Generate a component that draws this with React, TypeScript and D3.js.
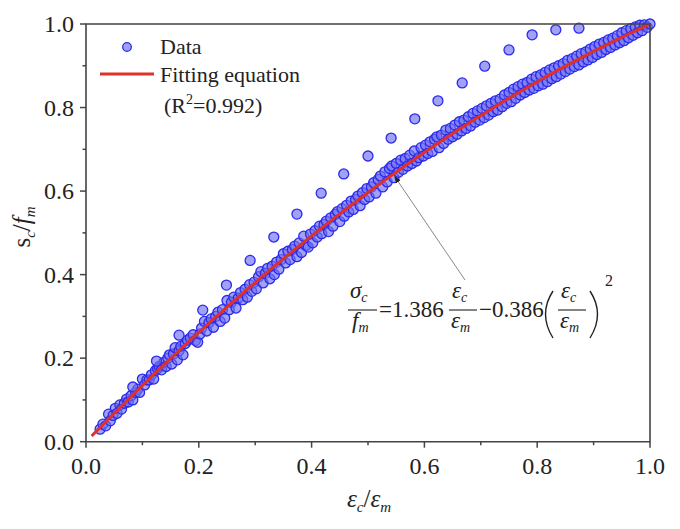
import React from 'react';
import * as d3 from 'd3';

// measured points, normalised strain (x) and normalised stress (y)
const strainMain = [
  0.025, 0.03, 0.035, 0.04, 0.043, 0.048, 0.052, 0.055, 0.06, 0.063, 0.068, 0.072, 0.075, 0.08, 0.083, 0.088, 0.092, 0.095, 0.1, 0.104, 0.108,
  0.112, 0.116, 0.12, 0.123, 0.127, 0.13, 0.134, 0.138, 0.142, 0.145, 0.148, 0.152, 0.155, 0.158, 0.162, 0.165, 0.168, 0.172, 0.176, 0.18, 0.185, 0.19, 0.194, 0.198, 0.202, 0.205,
  0.21, 0.214, 0.218, 0.222, 0.226, 0.23, 0.234, 0.238, 0.242, 0.246, 0.25, 0.254, 0.258, 0.262, 0.266, 0.27, 0.274, 0.278, 0.282, 0.286, 0.29, 0.294, 0.298, 0.302,
  0.306, 0.31, 0.314, 0.318, 0.322, 0.326, 0.33, 0.334, 0.338, 0.342, 0.346, 0.35, 0.354, 0.358, 0.362, 0.366, 0.37, 0.374, 0.378, 0.382, 0.386, 0.39, 0.394, 0.398, 0.402, 0.406,
  0.41, 0.414, 0.418, 0.422, 0.426, 0.43, 0.434, 0.438, 0.442, 0.446, 0.45, 0.454, 0.458, 0.462, 0.466, 0.47, 0.474, 0.478, 0.482, 0.486, 0.49, 0.494, 0.498, 0.502,
  0.506, 0.51, 0.514, 0.518, 0.522, 0.526, 0.53, 0.534, 0.538, 0.542, 0.546, 0.55, 0.554, 0.558, 0.562, 0.566, 0.57, 0.574, 0.578, 0.582, 0.586, 0.59, 0.594, 0.598,
  0.602, 0.606, 0.61, 0.614, 0.618, 0.622, 0.626, 0.63, 0.634, 0.638, 0.642, 0.646, 0.65, 0.654, 0.658, 0.662, 0.666, 0.67, 0.674, 0.678, 0.682, 0.686, 0.69, 0.694, 0.698,
  0.702, 0.706, 0.71, 0.714, 0.718, 0.722, 0.726, 0.73, 0.734, 0.738, 0.742, 0.746, 0.75, 0.754, 0.758, 0.762, 0.766, 0.77, 0.774, 0.778, 0.782, 0.786, 0.79, 0.794, 0.798,
  0.802, 0.806, 0.81, 0.814, 0.818, 0.822, 0.826, 0.83, 0.834, 0.838, 0.842, 0.846, 0.85, 0.854, 0.858, 0.862, 0.866, 0.87, 0.874, 0.878, 0.882, 0.886, 0.89, 0.894, 0.898,
  0.902, 0.906, 0.91, 0.914, 0.918, 0.922, 0.926, 0.93, 0.934, 0.938, 0.942, 0.946, 0.95, 0.954, 0.958, 0.962, 0.966, 0.97, 0.974, 0.978, 0.982, 0.986, 0.99, 0.995, 1.0,
];
const stressMain = [
  0.03, 0.042, 0.038, 0.066, 0.05, 0.063, 0.08, 0.068, 0.088, 0.078, 0.092, 0.102, 0.095, 0.11, 0.1, 0.118, 0.126, 0.118, 0.15, 0.136, 0.148,
  0.148, 0.16, 0.15, 0.17, 0.175, 0.18, 0.172, 0.19, 0.18, 0.2, 0.208, 0.186, 0.21, 0.225, 0.196, 0.218, 0.228, 0.208, 0.235, 0.243, 0.248, 0.256, 0.242, 0.238, 0.258, 0.272,
  0.288, 0.265, 0.285, 0.294, 0.274, 0.3, 0.31, 0.288, 0.316, 0.296, 0.338, 0.316, 0.334, 0.346, 0.32, 0.344, 0.357, 0.34, 0.365, 0.346, 0.376, 0.36, 0.382, 0.366,
  0.395, 0.407, 0.38, 0.403, 0.415, 0.39, 0.42, 0.4, 0.43, 0.413, 0.436, 0.45, 0.428, 0.456, 0.436, 0.46, 0.468, 0.443, 0.476, 0.453, 0.492, 0.47, 0.466, 0.497, 0.476, 0.505,
  0.49, 0.516, 0.498, 0.52, 0.528, 0.503, 0.536, 0.516, 0.544, 0.551, 0.527, 0.558, 0.54, 0.566, 0.55, 0.576, 0.556, 0.58, 0.588, 0.565, 0.596, 0.58, 0.606, 0.586,
  0.61, 0.62, 0.595, 0.628, 0.636, 0.61, 0.646, 0.622, 0.654, 0.66, 0.632, 0.666, 0.645, 0.674, 0.652, 0.678, 0.66, 0.686, 0.666, 0.696, 0.672, 0.68, 0.704, 0.684,
  0.71, 0.69, 0.718, 0.695, 0.724, 0.73, 0.704, 0.734, 0.714, 0.746, 0.724, 0.75, 0.73, 0.758, 0.736, 0.766, 0.744, 0.77, 0.75, 0.778, 0.756, 0.786, 0.765, 0.792, 0.77,
  0.798, 0.776, 0.804, 0.782, 0.81, 0.79, 0.816, 0.794, 0.82, 0.802, 0.83, 0.81, 0.836, 0.814, 0.844, 0.822, 0.85, 0.83, 0.856, 0.836, 0.86, 0.842, 0.868, 0.846, 0.874,
  0.852, 0.878, 0.856, 0.884, 0.862, 0.89, 0.869, 0.895, 0.874, 0.9, 0.88, 0.905, 0.886, 0.913, 0.892, 0.917, 0.898, 0.923, 0.902, 0.929, 0.909, 0.933, 0.914, 0.94, 0.92,
  0.946, 0.927, 0.952, 0.932, 0.956, 0.939, 0.962, 0.944, 0.966, 0.95, 0.972, 0.955, 0.979, 0.96, 0.984, 0.967, 0.989, 0.973, 0.993, 0.979, 0.997, 0.984, 0.998, 0.992, 1.0,
];

// the upper band of specimens sitting above the fitted curve
const strainUpper = [0.083, 0.125, 0.165, 0.207, 0.249, 0.291, 0.333, 0.374, 0.417, 0.457, 0.5, 0.541, 0.583, 0.624, 0.667, 0.707, 0.75, 0.791, 0.833, 0.874];
const stressUpper = [0.131, 0.193, 0.255, 0.315, 0.375, 0.434, 0.49, 0.545, 0.595, 0.641, 0.684, 0.727, 0.773, 0.816, 0.859, 0.899, 0.938, 0.974, 0.986, 0.99];

// sigma_c / f_m = a * (e_c/e_m) + b * (e_c/e_m)^2
const fitCoefficients = [1.386, -0.386];

const majorTicks = [0, 0.2, 0.4, 0.6, 0.8, 1.0];
const minorTicks = [0.1, 0.3, 0.5, 0.7, 0.9];

const serif = { fontFamily: "'Liberation Serif'" };
const axisColor = '#444';
const ink = '#222';

function App() {
  const width = 680;
  const height = 529;
  const left = 86;
  const right = 650;
  const top = 24;
  const bottom = 441.7;

  const x = d3.scaleLinear().domain([0, 1]).range([left, right]);
  const y = d3.scaleLinear().domain([0, 1]).range([bottom, top]);
  const fmt = d3.format('.1f');

  const fit = (v: number) => fitCoefficients[0] * v + fitCoefficients[1] * v * v;
  const fitX = d3.range(0.01, 1.0001, 0.01);
  const fitLine = d3
    .line<number>()
    .x((d) => x(d))
    .y((d) => y(fit(d)));

  const points = [
    ...strainMain.map((v, i) => [v, stressMain[i]]),
    ...strainUpper.map((v, i) => [v, stressUpper[i]]),
  ];

  // arrow from the equation up to the curve
  const arrowTip = 0.545;
  const tipX = x(arrowTip);
  const tipY = y(fit(arrowTip));

  return (
    <svg width={width} height={height} style={{ position: 'absolute', left: 0, top: 0 }}>
      <defs>
        <marker id="head" viewBox="0 0 10 10" refX="10" refY="5" markerWidth="7" markerHeight="7" orient="auto">
          <path d="M0,1 L10,5 L0,9 z" fill={ink} />
        </marker>
      </defs>
      <rect width={width} height={height} fill="#fff" />

      {/* data points */}
      <g>
        {points.map((p, i) => (
          <circle
            key={i}
            cx={x(p[0])}
            cy={y(p[1])}
            r={5}
            fill="rgba(110,110,240,0.65)"
            stroke="#2a2aee"
            strokeWidth={1.3}
          />
        ))}
      </g>

      {/* fitted curve */}
      <path d={fitLine(fitX) || ''} fill="none" stroke="#e0302a" strokeWidth={3} />

      {/* frame */}
      <path
        d={`M${left},${top} H${right} V${bottom} H${left} Z`}
        fill="none"
        stroke={axisColor}
        strokeWidth={1.6}
      />

      {/* x axis ticks */}
      <g>
        {majorTicks.map((t) => (
          <g key={'xm' + t}>
            <line x1={x(t)} x2={x(t)} y1={bottom} y2={bottom + 6} stroke={axisColor} strokeWidth={1.5} />
            <text x={x(t)} y={bottom + 32} textAnchor="middle" fontSize={24} fill={ink} style={serif}>
              {fmt(t)}
            </text>
          </g>
        ))}
        {minorTicks.map((t) => (
          <line key={'xn' + t} x1={x(t)} x2={x(t)} y1={bottom} y2={bottom + 3.5} stroke={axisColor} strokeWidth={1.5} />
        ))}
      </g>

      {/* y axis ticks */}
      <g>
        {majorTicks.map((t) => (
          <g key={'ym' + t}>
            <line x1={left - 6} x2={left} y1={y(t)} y2={y(t)} stroke={axisColor} strokeWidth={1.5} />
            <text x={left - 12} y={y(t) + 8} textAnchor="end" fontSize={24} fill={ink} style={serif}>
              {fmt(t)}
            </text>
          </g>
        ))}
        {minorTicks.map((t) => (
          <line key={'yn' + t} x1={left - 3.5} x2={left} y1={y(t)} y2={y(t)} stroke={axisColor} strokeWidth={1.5} />
        ))}
      </g>

      {/* axis titles */}
      <text x={369} y={507} textAnchor="middle" fontSize={25} fill={ink} style={serif}>
        <tspan fontStyle="italic">ε</tspan>
        <tspan fontStyle="italic" fontSize={15} dy={5}>c</tspan>
        <tspan dy={-5}>/</tspan>
        <tspan fontStyle="italic">ε</tspan>
        <tspan fontStyle="italic" fontSize={15} dy={5}>m</tspan>
      </text>
      <text transform="translate(30,227) rotate(-90)" textAnchor="middle" fontSize={25} fill={ink} style={serif}>
        <tspan>s</tspan>
        <tspan fontStyle="italic" fontSize={15} dy={5}>c</tspan>
        <tspan dy={-5}>/</tspan>
        <tspan fontStyle="italic">f</tspan>
        <tspan fontStyle="italic" fontSize={15} dy={5}>m</tspan>
      </text>

      {/* legend */}
      <g fontSize={22} fill={ink}>
        <circle cx={127} cy={47} r={4.3} fill="rgba(110,110,240,0.65)" stroke="#2a2aee" strokeWidth={1.3} />
        <text x={160} y={54} style={serif}>Data</text>
        <line x1={100} x2={154} y1={74} y2={74} stroke="#e0302a" strokeWidth={3} />
        <text x={160} y={82} style={serif}>Fitting equation</text>
        <text x={164} y={113} style={serif}>
          (R<tspan fontSize={14} dy={-9}>2</tspan>
          <tspan dy={9}>=0.992)</tspan>
        </text>
      </g>

      {/* annotation */}
      <line x1={465} y1={280} x2={tipX + 1} y2={tipY + 2} stroke="#888" strokeWidth={1} markerEnd="url(#head)" />
      <g fill={ink} fontSize={23}>
        <text x={350} y={298} fontStyle="italic" style={serif}>
          σ<tspan fontSize={14} dy={4}>c</tspan>
        </text>
        <line x1={348} x2={377} y1={310} y2={310} stroke={ink} strokeWidth={1.1} />
        <text x={352} y={328} fontStyle="italic" style={serif}>
          f<tspan fontSize={14} dy={4}>m</tspan>
        </text>
        <text x={379} y={317} style={serif}>=</text>
        <text x={392} y={317} style={serif}>1.386</text>
        <text x={452} y={298} fontStyle="italic" style={serif}>
          ε<tspan fontSize={14} dy={4}>c</tspan>
        </text>
        <line x1={449} x2={477} y1={310} y2={310} stroke={ink} strokeWidth={1.1} />
        <text x={451} y={328} fontStyle="italic" style={serif}>
          ε<tspan fontSize={14} dy={4}>m</tspan>
        </text>
        <text x={479} y={317} style={serif}>−0.386</text>
        <path d="M553,291 Q538,314 553,338" fill="none" stroke={ink} strokeWidth={1.4} />
        <text x={561} y={298} fontStyle="italic" style={serif}>
          ε<tspan fontSize={14} dy={4}>c</tspan>
        </text>
        <line x1={558} x2={586} y1={310} y2={310} stroke={ink} strokeWidth={1.1} />
        <text x={560} y={328} fontStyle="italic" style={serif}>
          ε<tspan fontSize={14} dy={4}>m</tspan>
        </text>
        <path d="M590,291 Q605,314 590,338" fill="none" stroke={ink} strokeWidth={1.4} />
        <text x={605} y={286} fontSize={16} style={serif}>2</text>
      </g>
    </svg>
  );
}

export default App;
